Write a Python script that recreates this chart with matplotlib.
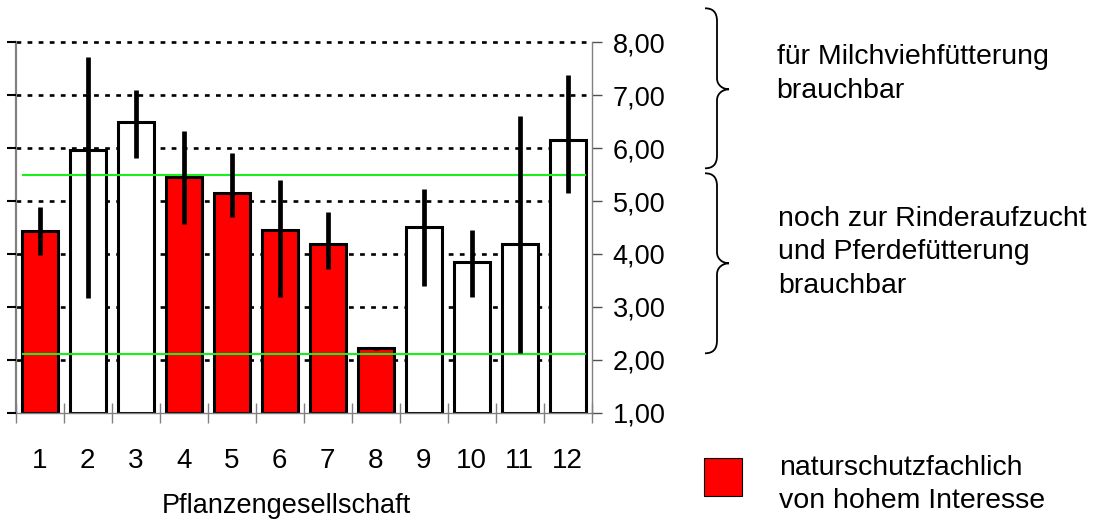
import matplotlib.pyplot as plt
import matplotlib.patches as patches
from matplotlib.path import Path
from matplotlib.ticker import FixedLocator

# mean value per plant community with the min/max span of the samples
communities = [str(i) for i in range(1, 13)]
means = [4.44, 5.96, 6.50, 5.46, 5.15, 4.45, 4.19, 2.22, 4.50, 3.84, 4.19, 6.16]
lows = [3.98, 3.16, 5.81, 4.57, 4.69, 3.18, 3.72, 2.18, 3.40, 3.18, 2.13, 5.15]
highs = [4.89, 7.73, 7.09, 6.33, 5.91, 5.39, 4.79, 2.25, 5.22, 4.45, 6.61, 7.38]
# communities of high nature conservation interest
protected = [True, False, False, True, True, True, True, True, False, False, False, False]

# feed value thresholds
dairy_limit = 5.5
rearing_limit = 2.1

y_ticks = [1, 2, 3, 4, 5, 6, 7, 8]
y_labels = [f"{v:.2f}".replace(".", ",") for v in y_ticks]

W, H = 1103, 521
plt.rcParams['font.family'] = ['Liberation Sans', 'DejaVu Sans']

fig = plt.figure(figsize=(W / 100, H / 100), dpi=100)
ax = fig.add_axes([15.7 / W, (H - 412.7) / H, 576 / W, 370.4 / H])

x = list(range(1, len(means) + 1))
bar_w = 0.75
colors = ['#ff0000' if p else 'white' for p in protected]

ax.bar(x, [m - y_ticks[0] for m in means], bottom=y_ticks[0], width=bar_w,
       color=colors, edgecolor='black', linewidth=2.2, zorder=2)
ax.hlines([dairy_limit, rearing_limit], 1 - bar_w / 2, len(means) + bar_w / 2,
          colors='#19f019', linewidth=1.5, zorder=3)
ax.errorbar(x, means, yerr=[[m - lo for m, lo in zip(means, lows)],
                            [hi - m for m, hi in zip(means, highs)]],
            fmt='none', ecolor='black', elinewidth=3.4, capsize=0, zorder=4)

ax.set_xlim(0.5, len(means) + 0.5)
ax.set_ylim(y_ticks[0], y_ticks[-1])

# dotted grid behind the bars
ax.hlines(y_ticks[1:], 0.5, len(means) + 0.5, colors='black',
          linewidth=1.9, linestyles=(0, (1.8, 2.4)), zorder=1, clip_on=False)
# short solid ticks left of the left spine
ax.hlines(y_ticks, -8.7 / 576, 0, transform=ax.get_yaxis_transform(),
          colors='black', linewidth=1.5, clip_on=False, zorder=5)

ax.spines['top'].set_visible(False)
for side in ['left', 'right', 'bottom']:
    ax.spines[side].set_color('#808080')
ax.spines['left'].set_linewidth(1.6)
ax.spines['right'].set_linewidth(1.0)
ax.spines['bottom'].set_linewidth(1.0)

ax.yaxis.tick_right()
ax.set_yticks(y_ticks)
ax.set_yticklabels(y_labels, fontsize=19.5)
ax.tick_params(axis='y', direction='out', length=7, width=1.0,
               color='#505050', pad=8)

ax.set_xticks(x)
ax.set_xticklabels(communities, fontsize=20)
ax.xaxis.set_minor_locator(FixedLocator([i + 0.5 for i in range(0, len(means) + 1)]))
ax.tick_params(axis='x', which='major', length=0, pad=25.5)
ax.tick_params(axis='x', which='minor', direction='inout', length=13.7,
               width=1.0, color='#808080')

fig.text(286 / W, 1 - 513.3 / H, 'Pflanzengesellschaft', fontsize=19.5,
         ha='center', va='baseline')


def px(xp, yp):
    return (xp / W, 1 - yp / H)


def brace(y0, ym, y1, xs=717, xe=705, xt=729):
    verts = [px(xe, y0), px(xs - 4, y0), px(xs, y0 + 4), px(xs, y0 + 13),
             px(xs, ym - 11),
             px(xs, ym - 4), px(xt - 6, ym), px(xt, ym),
             px(xt - 6, ym), px(xs, ym + 4), px(xs, ym + 11),
             px(xs, y1 - 13),
             px(xs, y1 - 4), px(xs - 4, y1), px(xe, y1)]
    codes = ([Path.MOVETO] + [Path.CURVE4] * 3 + [Path.LINETO] +
             [Path.CURVE4] * 6 + [Path.LINETO] + [Path.CURVE4] * 3)
    fig.patches.append(patches.PathPatch(Path(verts, codes), transform=fig.transFigure,
                                         facecolor='none', edgecolor='black',
                                         linewidth=1.3))


brace(8.3, 89.3, 168.3)
brace(173.3, 263.3, 353.3)

text_lines = [
    (776.7, 64.3, 'für Milchviehfütterung'),
    (776.7, 98.5, 'brauchbar'),
    (778.3, 226.0, 'noch zur Rinderaufzucht'),
    (778.3, 259.3, 'und Pferdefütterung'),
    (778.3, 292.7, 'brauchbar'),
    (779.3, 475.0, 'naturschutzfachlich'),
    (779.3, 508.3, 'von hohem Interesse'),
]
for xp, yp, s in text_lines:
    fig.text(*px(xp, yp), s, fontsize=20.5, ha='left', va='baseline')

fig.patches.append(patches.Rectangle(px(704.3, 496), 38 / W, 38.3 / H,
                                     transform=fig.transFigure, facecolor='#ff0000',
                                     edgecolor='black', linewidth=0.8))

fig.savefig('out.png', dpi=100)
